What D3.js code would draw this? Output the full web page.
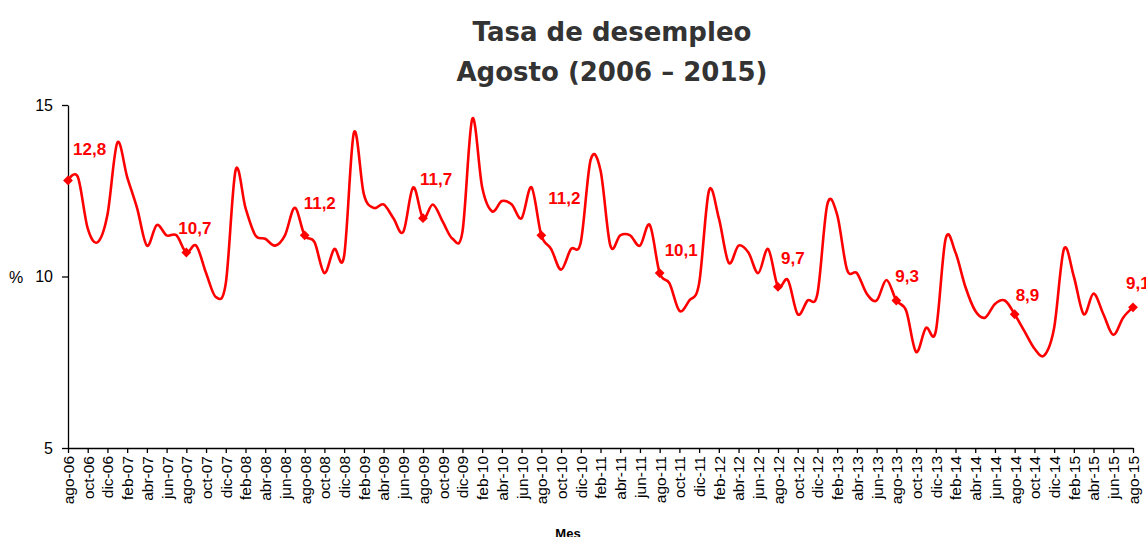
<!DOCTYPE html>
<meta charset="utf-8">
<style>

body {
  margin: 0;
  background: #fff;
}

.title {
  font: bold 26px "DejaVu Sans", sans-serif;
  fill: #333;
}

.axis text {
  font: 16px "Liberation Sans", Arial, sans-serif;
  fill: #000;
}

.axis.x text {
  font-size: 15.5px;
}

.axis path, .axis line {
  stroke: #000;
  stroke-width: 1.3px;
}

.rate-line {
  fill: none;
  stroke: #ff0000;
  stroke-width: 2.6px;
}

.mark {
  fill: #ff0000;
}

.value-label {
  font: bold 17px "Liberation Sans", Arial, sans-serif;
  fill: #ff0000;
}

.unit, .x-title {
  font: 16px "Liberation Sans", Arial, sans-serif;
}

.x-title {
  font-weight: bold;
  font-size: 13px;
}

</style>
<body>
</body>
<script src="https://cdn.jsdelivr.net/npm/d3@7"></script>
<script>

// monthly unemployment rate (%), ago-06 .. ago-15
var rates = [
  12.8, 12.9, 11.4, 11.0, 11.8, 13.9, 12.9, 12.0, 10.9, 11.5, 11.2, 11.2,
  10.7, 10.9, 10.1, 9.4, 9.8, 13.1, 12.0, 11.2, 11.1, 10.9, 11.2, 12.0,
  11.2, 11.0, 10.1, 10.8, 10.6, 14.2, 12.4, 12.0, 12.1, 11.7, 11.3, 12.6,
  11.7, 12.1, 11.6, 11.1, 11.3, 14.6, 12.6, 11.9, 12.2, 12.1, 11.7, 12.6,
  11.2, 10.8, 10.2, 10.8, 11.0, 13.4, 13.1, 10.9, 11.2, 11.2, 10.9, 11.5,
  10.1, 9.8, 9.0, 9.3, 9.8, 12.5, 11.7, 10.4, 10.9, 10.7, 10.1, 10.8,
  9.7, 9.9, 8.9, 9.3, 9.5, 12.1, 11.8, 10.2, 10.1, 9.5, 9.3, 9.9,
  9.3, 9.0, 7.8, 8.5, 8.4, 11.1, 10.7, 9.7, 9.0, 8.8, 9.2, 9.3,
  8.9, 8.4, 7.9, 7.7, 8.5, 10.8, 10.0, 8.9, 9.5, 8.9, 8.3, 8.8,
  9.1
];

var monthNames = ["ene", "feb", "mar", "abr", "may", "jun",
                  "jul", "ago", "sep", "oct", "nov", "dic"];
var firstYear = 2006, firstMonth = 7;   // ago-06
var yTicks = [5, 10, 15];
var titleLines = ["Tasa de desempleo", "Agosto (2006 \u2013 2015)"];

// little nudges so the August labels sit where they did in the original
var labelShift = [[5, -25], [-8, -18], [-1, -26], [-3, -33], [7, -31],
                  [5, -17], [3, -23], [-1, -19], [1, -13], [-7, -18]];

var months = rates.map(function(r, i) {
  var m = firstMonth + i;
  var yr = firstYear + Math.floor(m / 12);
  return monthNames[m % 12] + "-" + String(yr).slice(2);
});

var data = rates.map(function(r, i) { return {month: months[i], rate: r, idx: i}; });
var augusts = data.filter(function(d) { return d.month.indexOf("ago") == 0; });

var width = 1146,
    height = 537;

var plotLeft = 68, plotRight = 1133, plotTop = 105, plotBottom = 448;

var svg = d3.select("body").append("svg")
    .attr("width", width)
    .attr("height", height);

var x = d3.scalePoint()
    .domain(months)
    .range([plotLeft, plotRight]);

var y = d3.scaleLinear()
    .domain([5, 15])
    .range([plotBottom, plotTop]);

// title
svg.selectAll("text.title")
    .data(titleLines)
  .enter().append("text")
    .attr("class", "title")
    .attr("x", 612)
    .attr("y", function(d, i) { return 41 + i * 40; })
    .attr("text-anchor", "middle")
    .text(function(d) { return d; });

// axes
var xAxis = d3.axisBottom(x)
    .tickValues(months.filter(function(d, i) { return i % 2 == 0; }))
    .tickSize(5)
    .tickSizeOuter(0);

svg.append("g")
    .attr("class", "axis x")
    .attr("transform", "translate(0," + plotBottom + ")")
    .call(xAxis)
  .selectAll("text")
    .attr("transform", "rotate(-90)")
    .attr("text-anchor", "end")
    .attr("x", -8)
    .attr("y", 0)
    .attr("dy", "0.35em");

svg.append("g")
    .attr("class", "axis y")
    .attr("transform", "translate(" + plotLeft + ",0)")
    .call(d3.axisLeft(y).tickValues(yTicks).tickSize(6).tickPadding(9).tickSizeOuter(0));

svg.append("text")
    .attr("class", "unit")
    .attr("x", 16)
    .attr("y", y(10) + 6)
    .attr("text-anchor", "middle")
    .text("%");

svg.append("text")
    .attr("class", "x-title")
    .attr("x", 568)
    .attr("y", 538)
    .attr("text-anchor", "middle")
    .text("Mes");

// smoothed line, like the spreadsheet's "smoothed line" option
var line = d3.line()
    .x(function(d) { return x(d.month); })
    .y(function(d) { return y(d.rate); })
    .curve(d3.curveCardinal.tension(0));

svg.append("path")
    .datum(data)
    .attr("class", "rate-line")
    .attr("d", line);

// August markers + labels
svg.selectAll("path.mark")
    .data(augusts)
  .enter().append("path")
    .attr("class", "mark")
    .attr("d", d3.symbol().type(d3.symbolSquare).size(48))
    .attr("transform", function(d) {
      return "translate(" + x(d.month) + "," + y(d.rate) + ") rotate(45)";
    });

svg.selectAll("text.value-label")
    .data(augusts)
  .enter().append("text")
    .attr("class", "value-label")
    .attr("x", function(d, i) { return x(d.month) + labelShift[i][0]; })
    .attr("y", function(d, i) { return y(d.rate) + labelShift[i][1]; })
    .text(function(d) { return d.rate.toFixed(1).replace(".", ","); });

</script>
